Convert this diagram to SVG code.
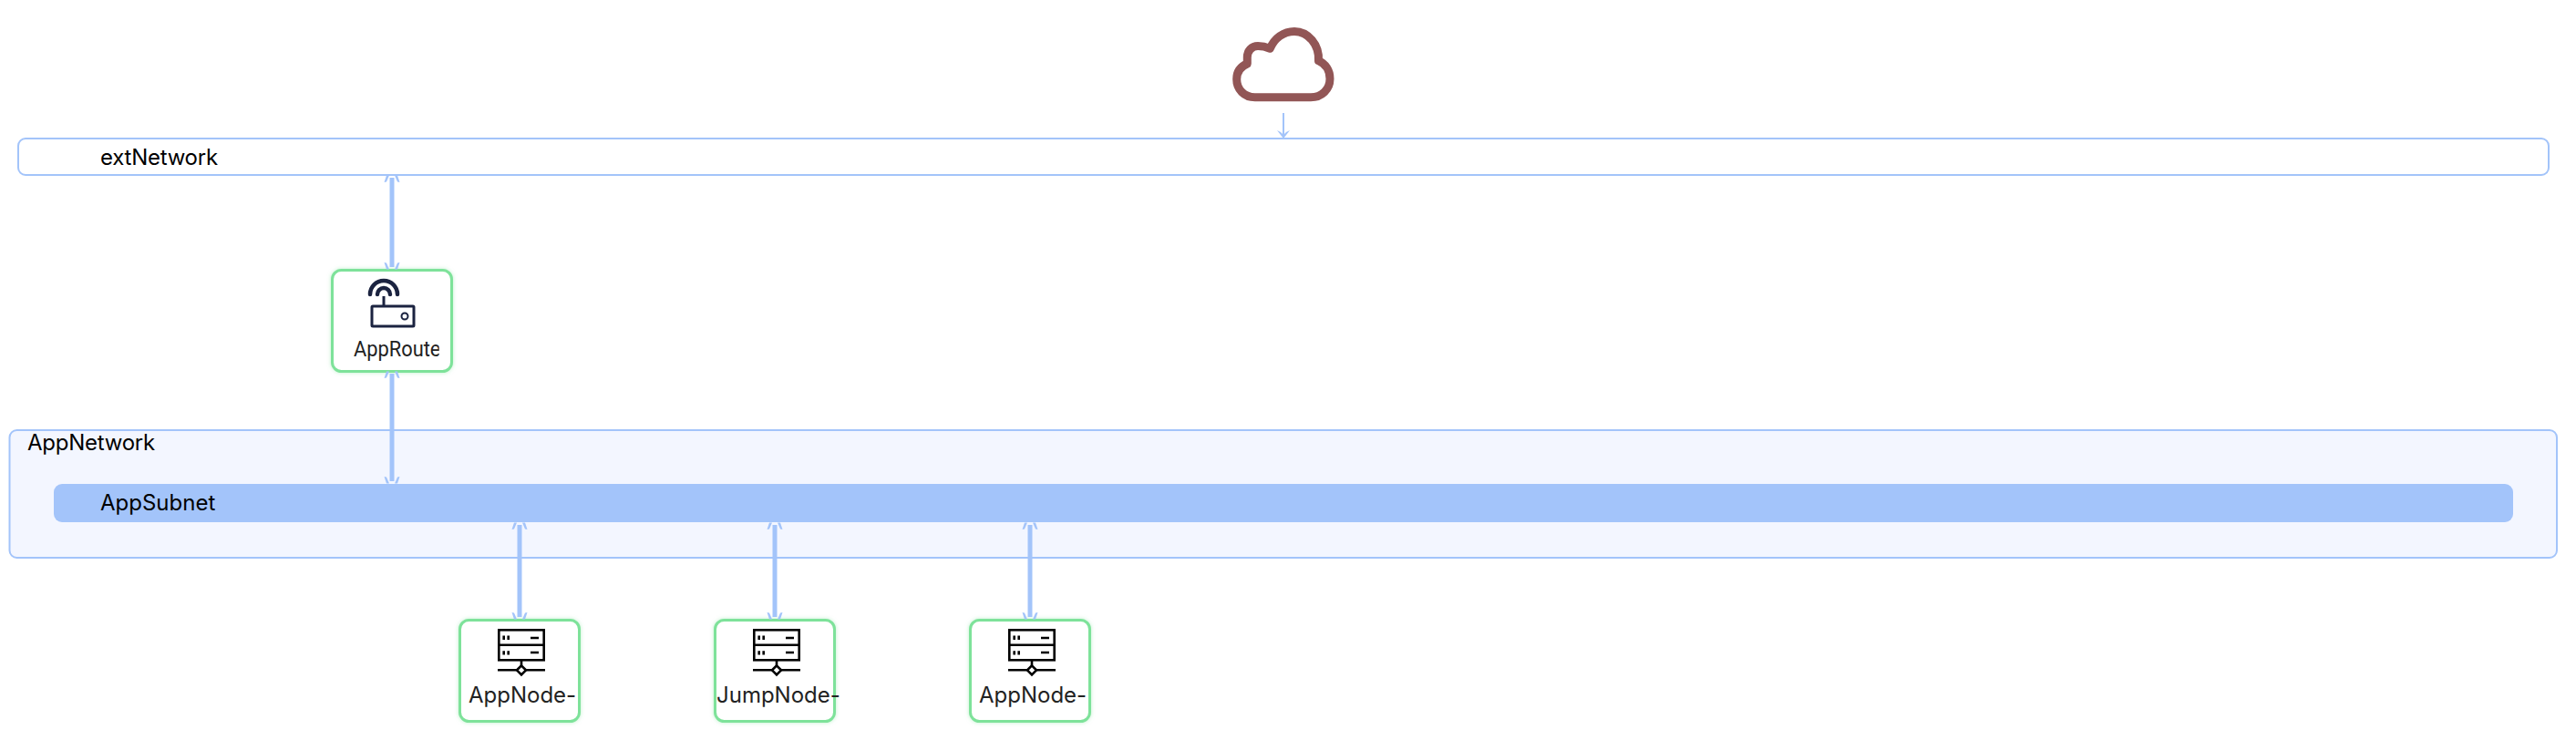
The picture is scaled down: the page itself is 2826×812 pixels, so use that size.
<svg xmlns="http://www.w3.org/2000/svg" width="2826" height="812" viewBox="0 0 2826 812">
<style>
.lbl{font-family:"Inter","Liberation Sans",sans-serif;font-size:24px;letter-spacing:-.25px;fill:#000}
.lbl0{font-family:"Inter","Liberation Sans",sans-serif;font-size:24px;fill:#000}
.nlbl{font-family:"Inter","Liberation Sans",sans-serif;font-size:24px;fill:#222}
.rlbl{font-family:"Roboto","Liberation Sans",sans-serif;font-size:24px;fill:#222}
.node{fill:#fff;stroke:#7ee29a;stroke-width:3;filter:drop-shadow(0 0 2px #7ee29a80)}
.edge{fill:none;stroke:#a3c4fa;stroke-width:5}
.thin{fill:none;stroke:#a3c4fa;stroke-width:2}
.head{fill:#a3c4fa}
.srv{fill:none;stroke:#000;stroke-width:2.600}
.ico{fill:none;stroke:#1b2340}
</style>
<defs>
<path id="up" class="head" d="M-3 0H-6L-8.500 7.500L-6 7ZM3 0H6L8.500 7.500L6 7Z"/>
<path id="dn" class="head" d="M-3 0H-6L-8.500 -7.500L-6 -7ZM3 0H6L8.500 -7.500L6 -7Z"/>
<g id="server">
<rect x="-24.700" y="-44" width="49.400" height="33" class="srv"/>
<path d="M-24.700 -27.500H24.700M-19.300 -37.700V-33.300M-14.300 -37.700V-33.300M-19.300 -21V-16.700M-14.300 -21V-16.700M10 -35.300H19M10 -19.300H19M0 -11V-5M-26 0H-5M5 0H26" class="srv"/>
<path d="M0 -5L5 0L0 5L-5 0Z" class="srv"/>
</g>
<clipPath id="c1"><rect x="376" y="360" width="105.700" height="40"/></clipPath>
</defs>
<g id="extNetwork">
<rect x="20" y="152" width="2776" height="40" rx="8" fill="#fff" stroke="#a3c4fa" stroke-width="2"/>
<text x="110" y="181" class="lbl">extNetwork</text>
</g>
<g id="AppNetwork">
<rect x="10.500" y="472" width="2794.500" height="140" rx="8" fill="#f3f6ff" stroke="#a3c4fa" stroke-width="2"/>
<text x="30" y="494" class="lbl">AppNetwork</text>
</g>
<g id="AppSubnet">
<rect x="59" y="531" width="2698" height="42" rx="9" fill="#a3c4fa"/>
<text x="110" y="560" class="lbl0">AppSubnet</text>
</g>
<g id="cloud">
<path d="M1376.700 106.700H1438C1450 106.700 1459 98 1459 86.500C1459 77 1454 70 1446.500 66.700C1447.500 49 1435 34.500 1420 34.500C1408 34.500 1398 42 1393.300 53.300C1389 51.500 1385 50.500 1380 50.500C1373 50.500 1368.300 56 1368.300 63V70C1361 73 1356.700 79 1356.700 87C1356.700 98 1365 106.700 1376.700 106.700Z" fill="#fff" stroke="#925656" stroke-width="9" stroke-linejoin="round"/>
</g>
<g id="AppRouter">
<rect x="364.500" y="296.500" width="131" height="111" rx="10" class="node"/>
<path d="M406 323A15 15 0 0 1 436 323M414 323A7 7 0 0 1 428 323" class="ico" stroke-width="4.500" stroke-linecap="round"/>
<path d="M421 325V336" class="ico" stroke-width="3"/>
<rect x="408" y="336" width="46" height="22" rx="1" class="ico" stroke-width="3"/>
<circle cx="444" cy="347" r="3.500" class="ico" stroke-width="2"/>
<g clip-path="url(#c1)"><text transform="translate(388 391) scale(.91 1)" class="rlbl">AppRoute</text></g>
</g>
<g id="AppNode-1">
<rect x="504.500" y="680.500" width="131" height="111" rx="10" class="node"/>
<use href="#server" x="572" y="735.300"/>
<text x="514" y="771" class="nlbl">AppNode-</text>
</g>
<g id="JumpNode">
<rect x="784.500" y="680.500" width="131" height="111" rx="10" class="node"/>
<use href="#server" x="852" y="735.300"/>
<text x="786" y="771" class="nlbl">JumpNode-</text>
</g>
<g id="AppNode-2">
<rect x="1064.500" y="680.500" width="131" height="111" rx="10" class="node"/>
<use href="#server" x="1132" y="735.300"/>
<text x="1074" y="771" class="nlbl">AppNode-</text>
</g>
<g id="connectors">
<path d="M1408 124V150" class="thin"/>
<path d="M1408 152L1401 143L1405 145L1407 147H1409L1411 145L1415 143Z" class="head"/>
<path d="M430 195V293" class="edge"/>
<path d="M430 410V528" class="edge"/>
<path d="M570 576V677" class="edge"/>
<path d="M850 576V677" class="edge"/>
<path d="M1130 576V677" class="edge"/>
<use href="#up" x="430" y="192.500"/><use href="#dn" x="430" y="295.500"/>
<use href="#up" x="430" y="407.500"/><use href="#dn" x="430" y="530.500"/>
<use href="#up" x="570" y="573.500"/><use href="#dn" x="570" y="679.500"/>
<use href="#up" x="850" y="573.500"/><use href="#dn" x="850" y="679.500"/>
<use href="#up" x="1130" y="573.500"/><use href="#dn" x="1130" y="679.500"/>
</g>
</svg>
